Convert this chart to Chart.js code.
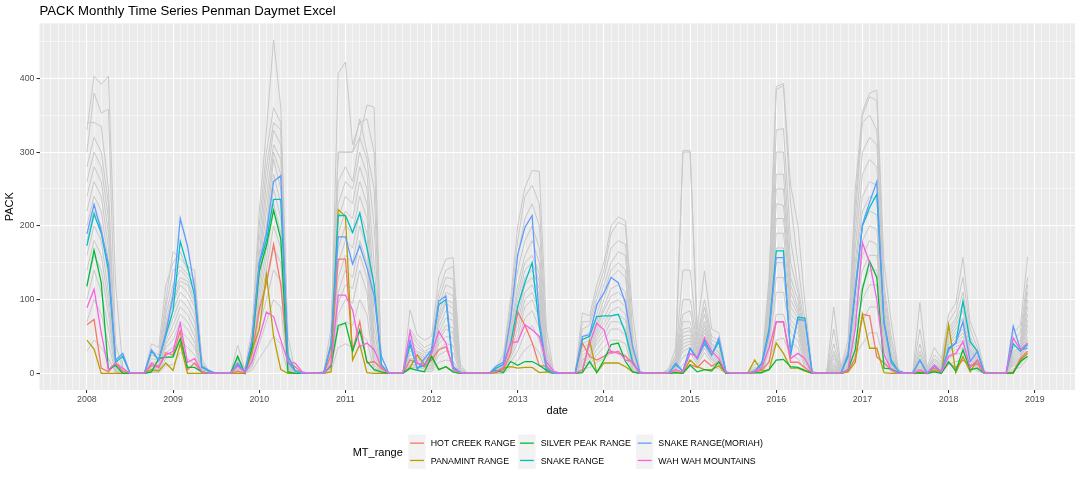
<!DOCTYPE html>
<html><head><meta charset="utf-8">
<script src="https://cdn.jsdelivr.net/npm/chart.js@4.4.1/dist/chart.umd.min.js"></script>
<style>
html,body{margin:0;padding:0;background:#fff;}
#wrap{position:relative;width:1080px;height:480px;overflow:hidden;}
canvas{position:absolute;left:0;top:0;}
.lg{position:absolute;font-family:"Liberation Sans",Arial,Helvetica,sans-serif;color:#000;white-space:nowrap;}
.lgt{font-size:11px;line-height:12px;}
.lgl{font-size:8.8px;line-height:10px;}
</style></head>
<body><div id="wrap"><canvas id="c" width="1080" height="480"></canvas><div id="legend"></div></div>
<script>
// ---- data (monthly, Jan 2008 .. Dec 2018) ----
const startYear = 2008;
const yearLabels = ['2008','2009','2010','2011','2012','2013','2014','2015','2016','2017','2018','2019'];
const rangeNames = ['HOT CREEK RANGE','PANAMINT RANGE','SILVER PEAK RANGE','SNAKE RANGE','SNAKE RANGE(MORIAH)','WAH WAH MOUNTAINS'];

const hotCreek = [
66,73,7,2,14,3,0,0,0,11,8,28,
25,57,5,14,2,0,0,0,0,3,0,27,
86,123,175,120,14,9,0,0,0,1,25,155,
155,30,70,14,16,7,0,0,0,18,14,9,
18,32,36,9,1,0,0,0,0,2,5,27,
83,65,42,10,10,0,0,0,0,41,23,18,
23,30,27,23,14,0,0,0,0,0,2,1,
12,8,18,10,15,0,0,0,0,1,5,15,
70,69,15,15,8,0,0,0,0,0,3,20,
80,78,22,14,5,0,0,0,2,0,7,1,
14,8,18,11,13,0,0,0,0,2,20,30];
const panamint = [
45,33,0,0,0,0,0,0,0,5,3,14,
4,40,0,0,0,0,0,0,0,0,0,32,
59,134,50,5,0,0,0,0,0,0,2,222,
213,18,39,1,0,0,0,0,0,8,25,12,
23,5,9,2,0,0,0,0,0,1,7,9,
7,8,8,1,2,0,0,0,0,2,45,1,
14,14,14,9,2,0,0,0,0,0,1,0,
18,9,5,5,10,0,0,0,0,18,3,5,
41,27,7,7,3,0,0,0,0,0,2,15,
80,34,34,1,0,0,0,0,0,0,4,0,
66,1,23,2,18,0,0,0,0,0,18,27];
const silverPeak = [
118,167,123,5,11,0,0,0,0,2,20,22,
22,47,8,8,2,0,0,0,0,23,0,36,
138,173,221,182,2,0,0,0,0,0,10,65,
68,30,59,16,5,2,0,0,0,7,4,2,
23,5,9,2,0,0,0,0,0,4,1,16,
11,16,16,11,4,0,0,0,0,1,16,1,
18,39,41,16,2,0,0,0,0,0,1,0,
11,2,5,3,16,0,0,0,0,1,1,5,
18,19,9,8,4,0,0,0,0,0,5,32,
114,152,130,7,6,1,0,0,1,0,2,0,
16,3,32,5,7,0,0,0,0,1,16,23];
const snakeRange = [
173,216,190,140,15,23,0,0,0,30,18,52,
85,179,145,105,8,3,0,0,0,12,2,43,
148,180,236,236,23,4,0,0,0,1,38,214,
214,191,217,170,120,12,0,0,0,39,7,11,
30,93,100,7,1,0,0,0,0,7,12,40,
91,123,150,64,5,0,0,0,0,46,50,77,
78,78,80,55,15,0,0,0,0,0,12,3,
34,20,45,25,43,1,0,0,0,3,14,60,
166,166,25,76,75,0,0,0,0,0,23,110,
200,225,243,70,18,3,0,0,18,0,10,2,
34,41,98,43,30,0,0,0,0,40,30,39];
const snakeMoriah = [
189,229,193,148,18,27,0,0,0,32,18,55,
105,210,173,115,10,4,0,0,0,14,2,45,
150,190,260,268,15,3,0,0,0,1,40,185,
185,148,173,143,105,23,1,0,0,45,5,20,
32,98,105,9,1,0,0,0,0,10,15,73,
161,198,214,73,7,0,0,0,0,50,52,93,
109,130,123,95,36,2,0,0,0,0,14,3,
33,20,40,25,48,2,0,0,0,3,12,55,
157,157,30,73,72,0,0,0,0,0,27,115,
202,232,260,68,14,3,0,0,18,0,11,2,
32,41,70,16,30,0,0,0,0,64,32,34];
const wahWah = [
89,114,55,5,14,7,0,0,0,14,9,25,
30,68,15,20,2,0,0,0,0,10,1,16,
48,83,77,45,16,14,2,0,0,0,12,106,
106,86,36,41,32,9,0,0,0,57,14,11,
27,57,41,5,1,0,0,0,0,3,8,41,
43,66,59,50,15,3,0,0,0,5,40,68,
59,27,30,18,16,0,0,0,0,0,5,2,
27,22,48,30,20,1,0,0,0,2,8,35,
70,70,20,27,20,0,0,0,0,0,5,60,
177,150,100,25,5,0,0,0,5,0,11,2,
23,27,43,8,18,0,0,0,0,48,32,41];

// other mountain ranges (grey background lines)
const grey01 = [
330,403,392,403,120,8,0,0,0,40,35,120,
150,165,140,128,20,2,0,0,0,38,6,60,
220,330,452,360,50,2,0,0,0,3,62,300,
300,300,320,364,361,10,0,0,0,86,52,45,
50,130,155,157,12,0,0,0,0,8,25,100,
200,252,275,274,60,2,0,0,0,82,78,120,
150,200,212,207,80,2,0,0,0,6,35,302,
302,60,139,60,55,2,0,0,0,12,15,130,
389,393,255,202,95,3,0,0,90,8,45,250,
355,380,384,150,70,6,0,0,96,8,35,20,
80,95,157,70,45,3,0,0,0,55,65,158];
const grey02 = [
300,380,353,358,40,5,0,0,0,30,25,100,
165,155,145,140,15,0,0,0,0,25,3,50,
200,300,360,340,30,0,0,0,0,2,45,407,
422,310,340,345,300,8,0,0,0,60,45,35,
40,110,140,145,8,0,0,0,0,5,18,90,
180,240,255,230,40,0,0,0,0,70,70,110,
140,190,205,200,55,0,0,0,0,4,25,300,
300,50,100,50,45,0,0,0,0,8,10,120,
385,390,230,150,70,0,0,0,60,5,35,230,
350,375,370,120,50,3,0,0,60,5,25,15,
70,85,130,60,35,0,0,0,0,45,55,130];
const grey03 = [
340,340,335,250,20,3,0,0,0,25,20,90,
140,145,135,120,10,0,0,0,0,20,2,40,
180,280,340,330,20,0,0,0,0,2,40,300,
300,300,345,300,250,5,0,0,0,55,40,30,
35,100,130,128,5,0,0,0,0,4,15,80,
160,210,230,200,30,0,0,0,0,60,65,100,
130,170,180,175,40,0,0,0,0,3,25,140,
140,45,90,45,40,0,0,0,0,6,8,110,
330,332,180,120,60,0,0,0,40,4,30,210,
340,350,330,110,40,2,0,0,40,4,20,12,
60,75,110,50,30,0,0,0,0,40,45,120];
const grey04 = [
280,320,300,230,15,2,0,0,0,20,18,80,
120,140,130,110,8,0,0,0,0,18,2,35,
160,260,330,310,15,0,0,0,0,1,35,260,
280,260,320,290,200,3,0,0,0,45,35,28,
30,90,120,115,4,0,0,0,0,3,12,70,
140,180,200,170,25,0,0,0,0,50,55,90,
120,150,165,160,35,0,0,0,0,3,20,100,
100,40,80,40,35,0,0,0,0,5,6,100,
300,300,150,110,50,0,0,0,30,3,25,190,
300,320,310,100,30,2,0,0,30,3,18,10,
55,70,95,45,25,0,0,0,0,35,40,110];
const grey05 = [
260,300,280,210,12,2,0,0,0,15,15,70,
110,130,125,100,6,0,0,0,0,15,1,30,
150,240,310,290,12,0,0,0,0,1,30,230,
260,250,300,270,150,2,0,0,0,40,30,25,
25,80,110,105,3,0,0,0,0,3,10,60,
120,160,180,150,20,0,0,0,0,45,50,80,
110,140,150,140,30,0,0,0,0,2,18,80,
85,35,70,38,30,0,0,0,0,4,5,90,
270,270,130,100,45,0,0,0,25,2,20,170,
270,290,280,90,25,1,0,0,25,2,15,8,
50,65,85,40,22,0,0,0,0,30,35,100];
const grey06 = [
240,280,260,190,10,1,0,0,0,12,12,65,
100,125,120,95,5,0,0,0,0,12,1,28,
140,220,300,270,10,0,0,0,0,1,25,210,
240,230,280,250,110,2,0,0,0,35,28,22,
22,75,100,95,3,0,0,0,0,2,9,55,
110,150,160,135,18,0,0,0,0,40,45,70,
100,130,140,130,25,0,0,0,0,2,15,70,
70,32,65,35,28,0,0,0,0,3,4,80,
250,250,120,90,40,0,0,0,20,2,18,150,
240,260,255,80,20,1,0,0,20,2,12,7,
45,60,75,35,20,0,0,0,0,28,32,90];
const grey07 = [
220,260,240,170,8,1,0,0,0,10,10,60,
95,120,110,90,4,0,0,0,0,10,0,25,
130,200,290,250,8,0,0,0,0,0,22,190,
220,210,260,230,80,1,0,0,0,30,25,20,
20,70,95,88,2,0,0,0,0,2,8,50,
100,140,150,125,15,0,0,0,0,35,40,65,
90,115,120,110,20,0,0,0,0,2,12,60,
62,30,60,32,25,0,0,0,0,3,3,70,
230,228,110,85,35,0,0,0,15,1,15,140,
220,240,235,70,18,1,0,0,15,1,10,6,
40,55,65,32,18,0,0,0,0,25,30,80];
const grey08 = [
200,240,220,150,6,0,0,0,0,8,8,55,
85,110,100,80,3,0,0,0,0,8,0,22,
120,190,270,230,6,0,0,0,0,0,20,170,
200,190,240,210,60,1,0,0,0,25,22,18,
18,62,85,80,2,0,0,0,0,1,7,45,
90,130,140,115,12,0,0,0,0,30,35,60,
85,105,110,100,18,0,0,0,0,1,10,55,
58,28,55,30,22,0,0,0,0,2,3,65,
210,210,100,80,30,0,0,0,12,1,12,125,
200,220,215,60,15,0,0,0,12,1,8,5,
38,50,60,30,16,0,0,0,0,22,28,72];
const grey09 = [
180,220,200,130,5,0,0,0,0,7,7,50,
75,100,90,70,3,0,0,0,0,7,0,20,
110,170,250,210,5,0,0,0,0,0,18,150,
180,170,220,190,45,0,0,0,0,20,20,16,
15,55,75,72,1,0,0,0,0,1,6,40,
80,120,130,105,10,0,0,0,0,25,30,55,
75,95,100,90,15,0,0,0,0,1,8,50,
52,25,50,28,20,0,0,0,0,2,2,60,
190,190,90,75,25,0,0,0,10,1,10,110,
180,200,195,55,12,0,0,0,10,1,7,4,
35,45,55,28,14,0,0,0,0,20,25,65];
const grey10 = [
160,200,180,110,4,0,0,0,0,6,6,45,
65,90,80,60,2,0,0,0,0,6,0,18,
100,155,230,190,4,0,0,0,0,0,15,130,
160,150,200,170,35,0,0,0,0,18,18,14,
12,50,65,62,1,0,0,0,0,1,5,35,
70,110,120,95,8,0,0,0,0,20,25,50,
68,85,90,80,12,0,0,0,0,1,7,45,
48,22,45,25,18,0,0,0,0,1,2,55,
170,170,80,70,20,0,0,0,8,0,8,95,
160,180,175,50,10,0,0,0,8,0,6,3,
32,42,50,25,12,0,0,0,0,18,22,58];
const grey11 = [
140,180,160,95,3,0,0,0,0,5,5,40,
55,80,70,50,2,0,0,0,0,5,0,15,
90,140,200,170,3,0,0,0,0,0,12,110,
140,130,180,150,25,0,0,0,0,15,15,12,
10,45,60,55,1,0,0,0,0,0,4,30,
60,100,110,85,6,0,0,0,0,18,22,45,
60,78,80,72,10,0,0,0,0,0,6,40,
44,20,42,22,16,0,0,0,0,1,1,50,
150,150,72,62,18,0,0,0,6,0,6,85,
140,160,160,45,8,0,0,0,6,0,5,2,
30,40,45,22,10,0,0,0,0,16,20,50];
const grey12 = [
120,160,140,80,2,0,0,0,0,4,4,35,
45,70,60,42,1,0,0,0,0,4,0,12,
80,120,170,150,2,0,0,0,0,0,10,95,
120,115,160,130,18,0,0,0,0,12,12,10,
8,40,50,48,0,0,0,0,0,0,3,25,
50,90,100,75,5,0,0,0,0,15,20,40,
52,70,70,62,8,0,0,0,0,0,5,35,
40,18,38,20,14,0,0,0,0,0,1,45,
130,130,65,55,15,0,0,0,5,0,5,75,
120,140,140,40,6,0,0,0,5,0,4,2,
28,36,40,20,8,0,0,0,0,14,18,45];
const grey13 = [
100,140,110,60,2,0,0,0,0,3,3,28,
35,58,48,35,1,0,0,0,0,3,0,10,
65,100,140,125,1,0,0,0,0,0,8,80,
100,95,140,110,12,0,0,0,0,10,10,8,
6,32,40,38,0,0,0,0,0,0,2,20,
42,75,85,62,4,0,0,0,0,12,16,32,
45,60,60,52,6,0,0,0,0,0,4,30,
35,15,34,18,12,0,0,0,0,0,0,38,
110,110,55,45,12,0,0,0,4,0,4,60,
100,120,120,35,5,0,0,0,4,0,3,1,
24,32,35,18,6,0,0,0,0,12,15,38];
const grey14 = [
70,100,80,40,1,0,0,0,0,2,2,20,
25,45,35,25,0,0,0,0,0,2,0,8,
40,70,100,90,1,0,0,0,0,0,6,60,
70,65,100,80,8,0,0,0,0,8,8,6,
4,25,30,28,0,0,0,0,0,0,1,15,
30,55,65,45,3,0,0,0,0,10,12,25,
35,45,45,40,4,0,0,0,0,0,3,22,
28,12,28,15,10,0,0,0,0,0,0,30,
80,80,42,35,8,0,0,0,3,0,3,45,
70,90,90,28,4,0,0,0,3,0,2,1,
20,26,28,15,5,0,0,0,0,10,12,30];
const grey15 = [
30,45,35,20,0,0,0,0,0,1,1,10,
12,28,20,12,0,0,0,0,0,1,0,4,
20,35,50,40,0,0,0,0,0,0,3,35,
40,35,55,45,3,0,0,0,0,5,5,3,
2,15,18,16,0,0,0,0,0,0,0,8,
18,32,40,28,1,0,0,0,0,6,8,15,
20,28,28,25,2,0,0,0,0,0,2,12,
18,8,18,10,6,0,0,0,0,0,0,18,
45,48,25,20,4,0,0,0,2,0,2,25,
40,55,55,18,2,0,0,0,2,0,1,0,
12,16,18,10,3,0,0,0,0,6,8,20];

// ---- chart ----
const FONT = '"Liberation Sans", Arial, Helvetica, sans-serif';
Chart.defaults.font.family = FONT;
const toPoints = arr => arr.map((v, i) => ({x: i, y: v}));

const colored = [
  {name: rangeNames[0], data: hotCreek,   color: '#F8766D'},
  {name: rangeNames[1], data: panamint,   color: '#B79F00'},
  {name: rangeNames[2], data: silverPeak, color: '#00BA38'},
  {name: rangeNames[3], data: snakeRange, color: '#00BFC4'},
  {name: rangeNames[4], data: snakeMoriah,color: '#619CFF'},
  {name: rangeNames[5], data: wahWah,     color: '#F564E3'}
];
const greys = [grey01,grey02,grey03,grey04,grey05,grey06,grey07,grey08,grey09,grey10,grey11,grey12,grey13,grey14,grey15];

const datasets = [];
// Chart.js draws dataset 0 on top: put last ggplot group first
colored.slice().reverse().forEach(s => datasets.push({
  label: s.name, data: toPoints(s.data), borderColor: s.color, borderWidth: 1.3,
  pointRadius: 0, tension: 0, fill: false
}));
greys.forEach((g, k) => datasets.push({
  label: 'other' + k, data: toPoints(g), borderColor: '#C9C9C9', borderWidth: 1,
  pointRadius: 0, tension: 0, fill: false
}));

// legend key geometry (3 columns x 2 rows, column-major)
const colX = [408.3, 518.3, 636];
const labX = [430.7, 540.7, 658.3];
const rowY = [434.5, 451.8];
const KEY = 17.3;

const panelBg = {
  id: 'panelBg',
  beforeDraw(chart) {
    const {ctx, chartArea: a} = chart;
    ctx.save();
    ctx.fillStyle = '#EBEBEB';
    ctx.fillRect(a.left, a.top, a.right - a.left, a.bottom - a.top);
    ctx.restore();
  },
  afterDraw(chart) {
    const ctx = chart.ctx;
    ctx.save();
    colored.forEach((s, k) => {
      const col = Math.floor(k / 2), row = k % 2;
      const x = colX[col], y = rowY[row];
      ctx.fillStyle = '#F2F2F2';
      ctx.fillRect(x, y, KEY, KEY);
      ctx.strokeStyle = s.color;
      ctx.lineWidth = 1.3;
      ctx.beginPath();
      ctx.moveTo(x + 1.7, y + KEY / 2);
      ctx.lineTo(x + KEY - 1.7, y + KEY / 2);
      ctx.stroke();
    });
    ctx.restore();
  }
};

const isMajorX = c => c.tick && Math.round(c.tick.value) % 12 === 0;
const isMajorY = c => c.tick && Math.round(c.tick.value) % 100 === 0;

new Chart(document.getElementById('c'), {
  type: 'line',
  data: {datasets},
  options: {
    responsive: false, animation: false, devicePixelRatio: 1,
    events: [],
    layout: {padding: {left: 0, right: 5, top: 0, bottom: 58.4}},
    plugins: {
      legend: {display: false}, tooltip: {enabled: false},
      title: {
        display: true, text: 'PACK Monthly Time Series Penman Daymet Excel',
        align: 'start', fullSize: false, color: '#000000',
        font: {size: 13.2, weight: 'normal', family: FONT},
        padding: {top: 3, bottom: 4.5}
      }
    },
    scales: {
      x: {
        type: 'linear', min: -6.6, max: 137.6,
        afterFit(s) { s.height = 31.6; },
        border: {display: false},
        grid: {
          color: '#FFFFFF',
          lineWidth: c => isMajorX(c) ? 1.07 : 0.53,
          tickColor: c => isMajorX(c) ? '#333333' : 'rgba(0,0,0,0)',
          tickWidth: 1.07, tickLength: 3, drawTicks: true
        },
        ticks: {
          stepSize: 1, includeBounds: false, maxTicksLimit: 1000, autoSkip: false,
          maxRotation: 0, minRotation: 0, padding: 1, color: '#4D4D4D',
          font: {size: 8.8},
          callback: v => (Number.isInteger(v) && v >= 0 && v % 12 === 0) ? yearLabels[v / 12] : ''
        },
        title: {display: true, text: 'date', color: '#000000', font: {size: 11}, padding: {top: 0, bottom: 4}}
      },
      y: {
        type: 'linear', min: -22.6, max: 474.6,
        afterFit(s) { s.width = 39.5; },
        border: {display: false},
        grid: {
          color: '#FFFFFF',
          lineWidth: c => isMajorY(c) ? 1.07 : 0.53,
          tickColor: c => isMajorY(c) ? '#333333' : 'rgba(0,0,0,0)',
          tickWidth: 1.07, tickLength: 3, drawTicks: true
        },
        ticks: {
          stepSize: 50, includeBounds: false, maxTicksLimit: 1000, autoSkip: false,
          padding: 2, color: '#4D4D4D', font: {size: 8.8},
          callback: v => (Math.round(v) % 100 === 0) ? String(v) : ''
        },
        title: {display: true, text: 'PACK', color: '#000000', font: {size: 11}, padding: {top: 3, bottom: 0}}
      }
    }
  },
  plugins: [panelBg]
});

// ---- legend text (HTML) ----
const legend = document.getElementById('legend');
function addText(cls, text, left, top) {
  const d = document.createElement('div');
  d.className = 'lg ' + cls; d.textContent = text;
  d.style.left = left + 'px'; d.style.top = top + 'px';
  legend.appendChild(d);
}
addText('lgt', 'MT_range', 352.7, 446.3);
colored.forEach((s, k) => {
  const col = Math.floor(k / 2), row = k % 2;
  addText('lgl', s.name, labX[col], rowY[row] + 3.7);
});
</script>
</body></html>
